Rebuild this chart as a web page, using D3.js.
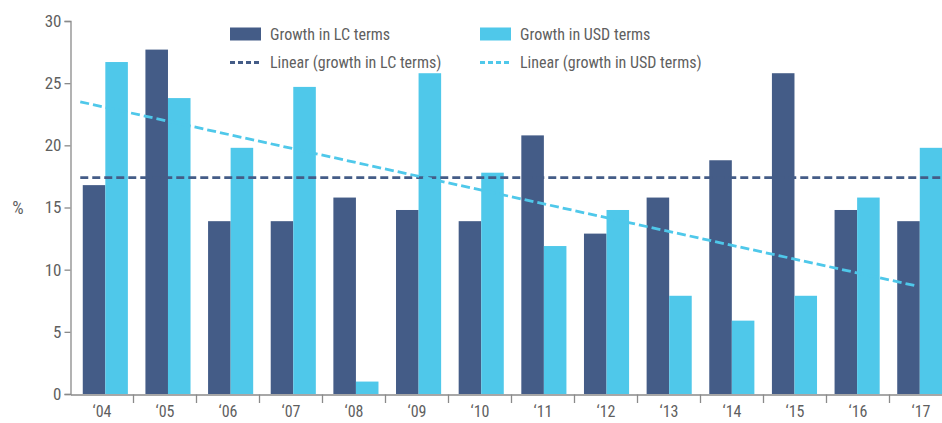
<!DOCTYPE html>
<html>
<head>
<meta charset="utf-8">
<script src="https://cdn.jsdelivr.net/npm/d3@7"></script>
<style>
  body { margin: 0; background: #fff; }
  text { font-family: "Liberation Sans Narrow", "Roboto Condensed", "Arial Narrow", Roboto, sans-serif; fill: #5f5f5f; }
</style>
</head>
<body>
<div id="chart"></div>
<script>
// data
var years = ["‘04", "‘05", "‘06", "‘07", "‘08", "‘09", "‘10", "‘11", "‘12", "‘13", "‘14", "‘15", "‘16", "‘17"];
var growthLC  = [16.8, 27.7, 13.9, 13.9, 15.8, 14.8, 13.9, 20.8, 12.9, 15.8, 18.8, 25.8, 14.8, 13.9];
var growthUSD = [26.7, 23.8, 19.8, 24.7, 1.0, 25.8, 17.8, 11.9, 14.8, 7.9, 5.9, 7.9, 15.8, 19.8];
var yTicks = [0, 5, 10, 15, 20, 25, 30];
// trend line end points: [category index, value]
var trendLC  = [[-0.4, 17.4], [14.5, 17.4]];
var trendUSD = [[-0.4, 23.5], [12.94, 8.7]];

var seriesNames = ["Growth in LC terms", "Growth in USD terms"];
var colors = ["#445c87", "#4fc8ea"];

var width = 942, height = 423;

var svg = d3.select("#chart")
  .append("svg")
    .attr("width", width)
    .attr("height", height);

// scales
var x = d3.scaleBand()
  .domain(years)
  .range([70.5, 70.5 + 63 * years.length]);

var xBar = d3.scaleBand()
  .domain(years)
  .range([74, 74 + 62.65 * years.length])
  .paddingInner(0.28)
  .paddingOuter(0.14);

var xSub = d3.scaleBand()
  .domain([0, 1])
  .range([0, xBar.bandwidth()]);

var xIdx = d3.scaleLinear()
  .domain([0, years.length - 1])
  .range([xBar(years[0]) + xBar.bandwidth() / 2, xBar(years[years.length - 1]) + xBar.bandwidth() / 2]);

var y = d3.scaleLinear()
  .domain([0, 30])
  .range([394, 21]);

// bars
var rows = years.map(function(yr, i) { return {year: yr, vals: [growthLC[i], growthUSD[i]]}; });

var groups = svg.append("g")
  .selectAll("g")
  .data(rows)
  .enter()
  .append("g")
    .attr("transform", function(d) { return "translate(" + xBar(d.year) + ",0)"; });

groups.selectAll("rect")
  .data(function(d) { return d.vals; })
  .enter()
  .append("rect")
    .attr("x", function(d, i) { return xSub(i); })
    .attr("y", function(d) { return y(d); })
    .attr("width", xSub.bandwidth())
    .attr("height", function(d) { return y(0) - y(d); })
    .style("fill", function(d, i) { return colors[i]; });

// y axis
var yAxis = svg.append("g")
  .attr("transform", "translate(70.5,0)")
  .call(d3.axisLeft(y).tickValues(yTicks).tickSize(6).tickPadding(3));
yAxis.select(".domain").attr("stroke", "#8a8a8a").attr("stroke-width", 1.3);
yAxis.selectAll(".tick line").attr("stroke", "#8a8a8a").attr("stroke-width", 1.3);
yAxis.selectAll(".tick text").style("font-size", "17px").style("fill", "#5f5f5f");

// x axis
var xAxis = svg.append("g")
  .attr("transform", "translate(0,394.5)")
  .call(d3.axisBottom(x).tickSize(0).tickPadding(11));
xAxis.select(".domain").attr("stroke", "#8a8a8a").attr("stroke-width", 1.3);
xAxis.selectAll(".tick text").style("font-size", "16px").style("fill", "#5f5f5f");

// x separators between categories
svg.append("g")
  .selectAll("line")
  .data(years)
  .enter()
  .append("line")
    .attr("x1", function(d) { return x(d) + x.bandwidth(); })
    .attr("x2", function(d) { return x(d) + x.bandwidth(); })
    .attr("y1", 394.5)
    .attr("y2", 403)
    .attr("stroke", "#8a8a8a")
    .attr("stroke-width", 1.3);

// trend lines
var line = d3.line()
  .x(function(d) { return xIdx(d[0]); })
  .y(function(d) { return y(d[1]); });

svg.append("path")
  .datum(trendLC)
  .attr("d", line)
  .attr("fill", "none")
  .attr("stroke", colors[0])
  .attr("stroke-width", 2.6)
  .attr("stroke-dasharray", "8,4");

svg.append("path")
  .datum(trendUSD)
  .attr("d", line)
  .attr("fill", "none")
  .attr("stroke", colors[1])
  .attr("stroke-width", 2.8)
  .attr("stroke-dasharray", "9,4");

// "%" label
svg.append("text")
  .attr("x", 18)
  .attr("y", 208)
  .attr("dy", "0.35em")
  .attr("text-anchor", "middle")
  .style("font-size", "18px")
  .text("%");

// legend
var legend = [
  {label: seriesNames[0], type: "rect", color: colors[0], x: 230, y: 34, dash: null},
  {label: seriesNames[1], type: "rect", color: colors[1], x: 480, y: 34, dash: null},
  {label: "Linear (growth in LC terms)", type: "line", color: colors[0], x: 230, y: 62.5, dash: "5,3"},
  {label: "Linear (growth in USD terms)", type: "line", color: colors[1], x: 480, y: 62.5, dash: "5,3"}
];

var lg = svg.append("g")
  .selectAll("g")
  .data(legend)
  .enter()
  .append("g")
    .attr("transform", function(d) { return "translate(" + d.x + "," + d.y + ")"; });

lg.filter(function(d) { return d.type == "rect"; })
  .append("rect")
    .attr("x", 0)
    .attr("y", -6.5)
    .attr("width", 31)
    .attr("height", 13)
    .style("fill", function(d) { return d.color; });

lg.filter(function(d) { return d.type == "line"; })
  .append("line")
    .attr("x1", 0)
    .attr("x2", 31)
    .attr("y1", 0)
    .attr("y2", 0)
    .attr("stroke", function(d) { return d.color; })
    .attr("stroke-width", 3)
    .attr("stroke-dasharray", function(d) { return d.dash; });

lg.append("text")
  .attr("x", 40)
  .attr("y", 0)
  .attr("dy", "0.35em")
  .style("font-size", "16px")
  .text(function(d) { return d.label; });
</script>
</body>
</html>
